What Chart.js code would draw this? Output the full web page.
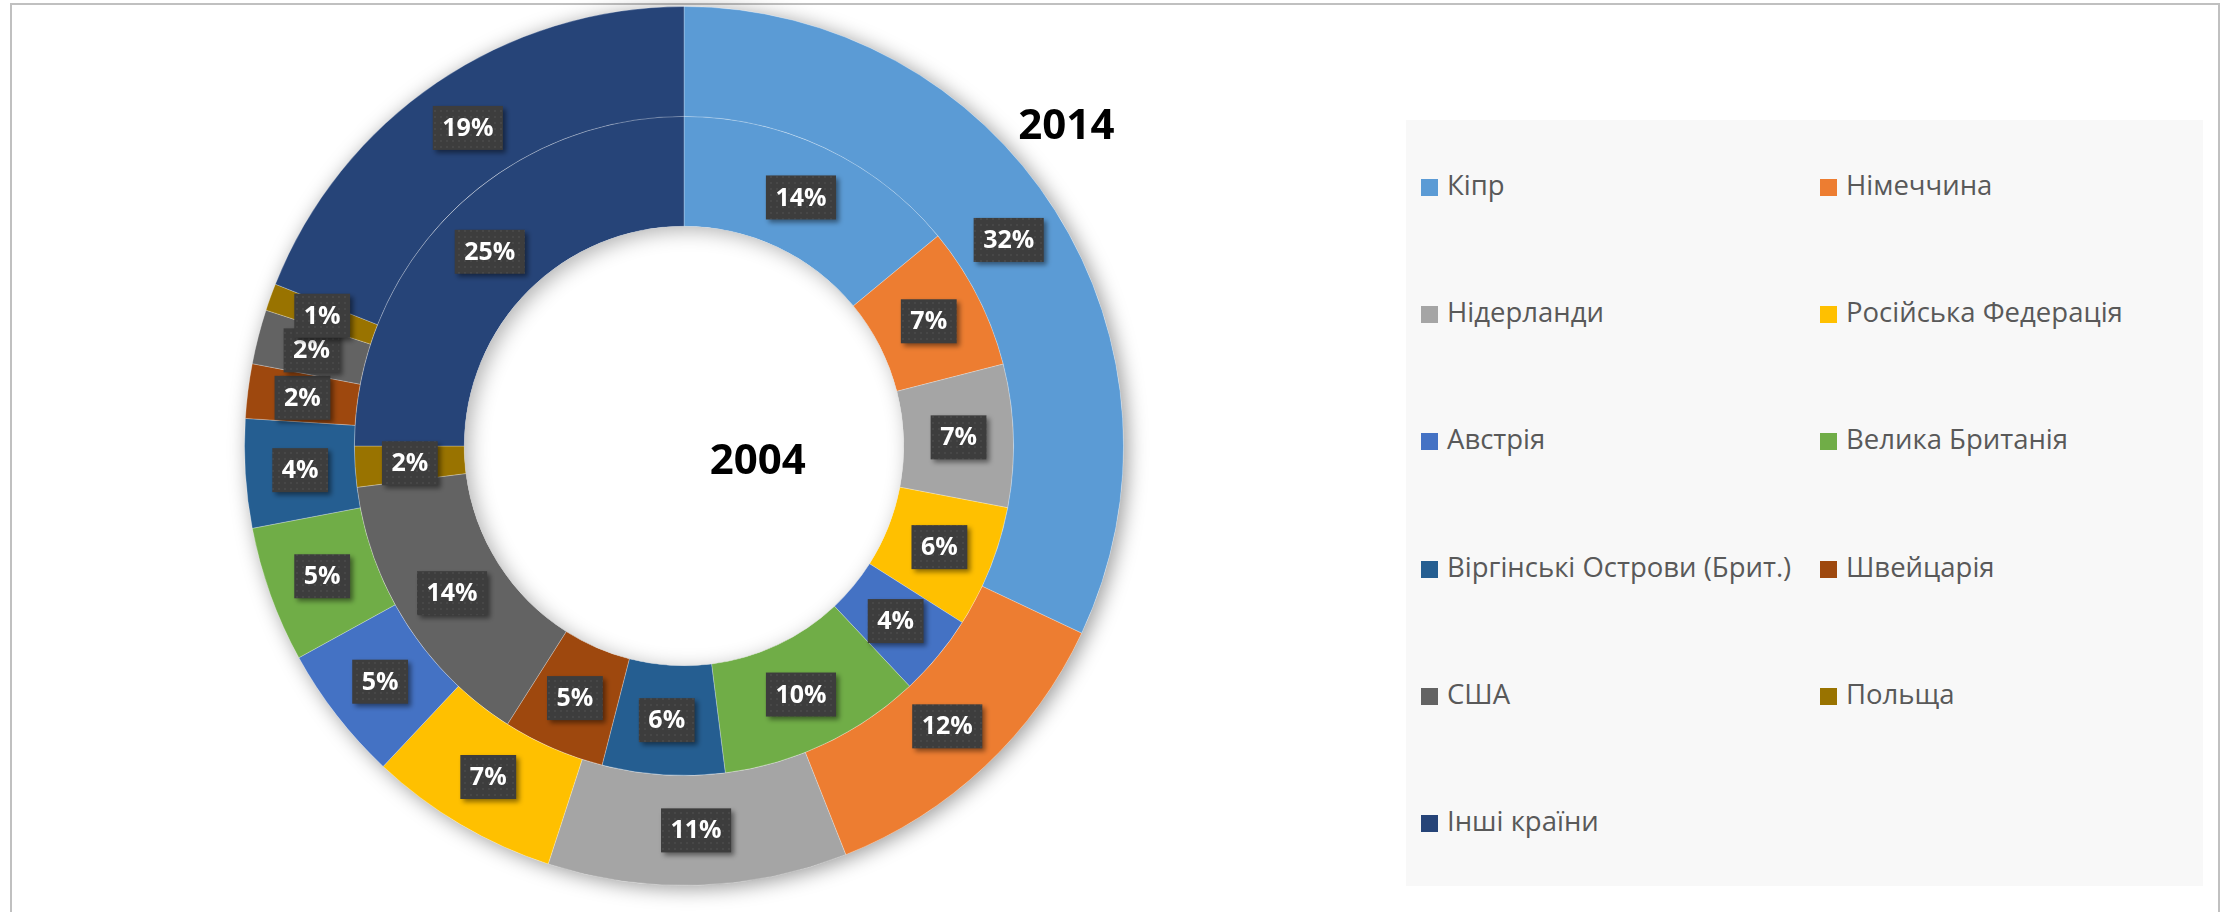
<!DOCTYPE html>
<html>
<head>
<meta charset="utf-8">
<script src="https://cdn.jsdelivr.net/npm/chart.js@4.4.1/dist/chart.umd.min.js"></script>
<style>
  html, body { margin: 0; padding: 0; background: #fff; overflow: hidden; }
  body { width: 2231px; height: 912px; position: relative; font-family: "Open Sans", sans-serif; }
  #frame { position: absolute; left: 10px; top: 3px; width: 2210px; height: 1000px; border: 2px solid #c0c0c0; box-sizing: border-box; }
  #chart { position: absolute; left: 0; top: 0; }
  #legend { position: absolute; left: 1406px; top: 120px; width: 797px; height: 766px; background: #f8f8f8; }
  .item { position: absolute; height: 40px; line-height: 40px; font-size: 27.5px; color: #595959; white-space: nowrap; }
  .item i { display: inline-block; width: 17px; height: 17px; margin-right: 9px; vertical-align: -1px; }
</style>
</head>
<body>
<div id="frame"></div>
<canvas id="chart" width="2231" height="912"></canvas>
<div id="legend"></div>
<script>
const countries = [
  "Кіпр", "Німеччина", "Нідерланди", "Російська Федерація", "Австрія",
  "Велика Британія", "Віргінські Острови (Брит.)", "Швейцарія", "США",
  "Польща", "Інші країни"
];
// outer ring
const share2014 = [32, 12, 11, 7, 5, 5, 4, 2, 2, 1, 19];
// inner ring
const share2004 = [14, 7, 7, 6, 4, 10, 6, 5, 14, 2, 25];
const colors = [
  "#5B9BD5", "#ED7D31", "#A5A5A5", "#FFC000", "#4472C4",
  "#70AD47", "#255E91", "#9E480E", "#636363", "#997300", "#264478"
];
const ringYears = ["2014", "2004"];

// legend, two columns, row by row
const legendEl = document.getElementById("legend");
countries.forEach((name, i) => {
  const row = Math.floor(i / 2);
  const col = i % 2;
  const el = document.createElement("div");
  el.className = "item";
  el.style.left = (15 + col * 399) + "px";
  el.style.top = (65 + row * 127.2 - 20) + "px";
  el.innerHTML = '<i style="background:' + colors[i] + '"></i>' + name;
  legendEl.appendChild(el);
});

// dotted dark fill like the office label boxes
const patCanvas = document.createElement("canvas");
patCanvas.width = 6;
patCanvas.height = 6;
const pctx = patCanvas.getContext("2d");
pctx.fillStyle = "#3d3d3d";
pctx.fillRect(0, 0, 6, 6);
pctx.fillStyle = "rgba(255,255,255,0.07)";
pctx.beginPath();
pctx.arc(3, 3, 1.1, 0, Math.PI * 2);
pctx.fill();

const ringShadow = {
  id: "ringShadow",
  beforeDatasetsDraw(chart) {
    const ctx = chart.ctx;
    const a = chart.getDatasetMeta(0).data[0];
    ctx.save();
    ctx.shadowColor = "rgba(0,0,0,0.4)";
    ctx.shadowBlur = 20;
    ctx.shadowOffsetX = 4;
    ctx.shadowOffsetY = 3;
    ctx.fillStyle = "#fff";
    ctx.beginPath();
    ctx.arc(a.x, a.y, a.outerRadius, 0, Math.PI * 2);
    ctx.fill();
    ctx.restore();
  },
  afterDatasetsDraw(chart) {
    // inner shadow inside the hole
    const ctx = chart.ctx;
    const a = chart.getDatasetMeta(1).data[0];
    ctx.save();
    ctx.beginPath();
    ctx.arc(a.x, a.y, a.innerRadius, 0, Math.PI * 2);
    ctx.clip();
    ctx.beginPath();
    ctx.arc(a.x, a.y, a.innerRadius + 50, 0, Math.PI * 2);
    ctx.lineWidth = 100;
    ctx.strokeStyle = "#fff";
    ctx.shadowColor = "rgba(0,0,0,0.3)";
    ctx.shadowBlur = 20;
    ctx.shadowOffsetX = 5;
    ctx.shadowOffsetY = 4;
    ctx.stroke();
    ctx.restore();
  }
};

const percentLabels = {
  id: "percentLabels",
  afterDatasetsDraw(chart) {
    const ctx = chart.ctx;
    const pattern = ctx.createPattern(patCanvas, "repeat");
    ctx.save();
    ctx.font = "bold 25px 'Open Sans'";
    ctx.textAlign = "center";
    ctx.textBaseline = "middle";
    chart.data.datasets.forEach((ds, di) => {
      chart.getDatasetMeta(di).data.forEach((arc, i) => {
        const p = arc.getCenterPoint();
        const text = ds.data[i] + "%";
        const w = ctx.measureText(text).width + 19;
        const h = 44;
        ctx.save();
        ctx.shadowColor = "rgba(0,0,0,0.45)";
        ctx.shadowBlur = 5;
        ctx.shadowOffsetX = 3;
        ctx.shadowOffsetY = 3;
        ctx.fillStyle = pattern;
        ctx.fillRect(p.x - w / 2, p.y - h / 2, w, h);
        ctx.restore();
        ctx.fillStyle = "#fff";
        ctx.fillText(text, p.x, p.y + 1);
      });
    });
    ctx.restore();
  },
  afterDraw(chart) {
    const ctx = chart.ctx;
    const a = chart.getDatasetMeta(0).data[0];
    const R = a.outerRadius;
    ctx.save();
    ctx.font = "bold 42px 'Open Sans'";
    ctx.fillStyle = "#000";
    ctx.textAlign = "center";
    ctx.textBaseline = "middle";
    ctx.fillText(ringYears[0], a.x + 0.87 * R, a.y - 0.725 * R);
    ctx.fillText(ringYears[1], a.x + 0.168 * R, a.y + 0.036 * R);
    ctx.restore();
  }
};

new Chart(document.getElementById("chart"), {
  type: "doughnut",
  data: {
    labels: countries,
    datasets: [
      { label: ringYears[0], data: share2014, backgroundColor: colors },
      { label: ringYears[1], data: share2004, backgroundColor: colors }
    ]
  },
  options: {
    responsive: false,
    animation: false,
    cutout: "50%",
    borderColor: "rgba(255,255,255,0.25)",
    borderWidth: 1,
    layout: { padding: { left: 244, right: 1107, top: 6, bottom: 26 } },
    plugins: {
      legend: { display: false },
      tooltip: { enabled: false }
    }
  },
  plugins: [ringShadow, percentLabels]
});
</script>
</body>
</html>
